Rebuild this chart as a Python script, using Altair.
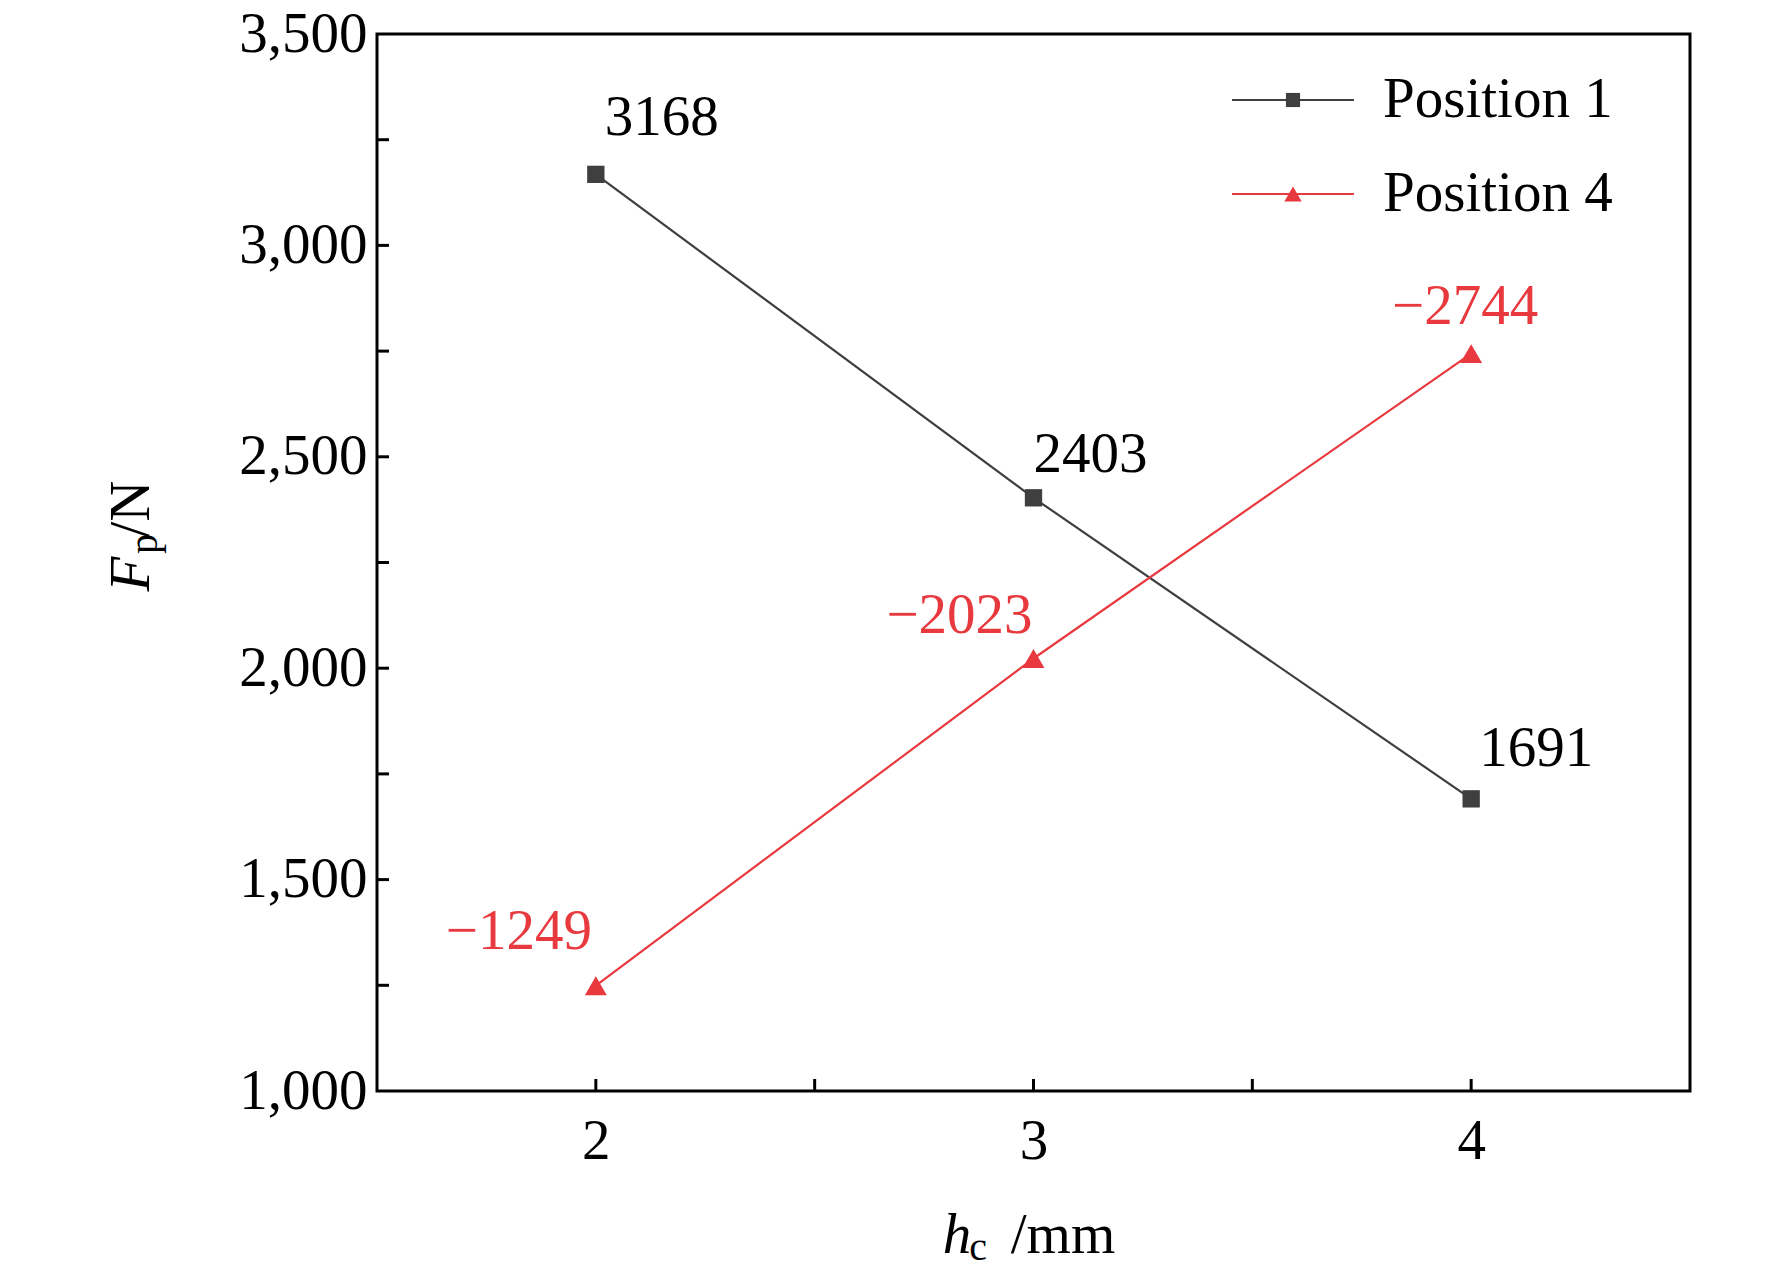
import altair as alt
import pandas as pd

hc = [2, 3, 4]
pos1 = [3168, 2403, 1691]
pos4 = [1249, 2023, 2744]
lab1 = ["3168", "2403", "1691"]
lab4 = ["\u22121249", "\u22122023", "\u22122744"]

grey, red = "#3f3f3f", "#e8393f"
font = "Liberation Serif"
W, H = 1313, 1057

df1 = pd.DataFrame({"hc": hc, "F": pos1, "lab": lab1})
df4 = pd.DataFrame({"hc": hc, "F": pos4, "lab": lab4})

xs = alt.Scale(domain=[1.5, 4.5], nice=False)
ys = alt.Scale(domain=[1000, 3500], nice=False)
xax = alt.Axis(values=[2, 3, 4], grid=False, labelFont=font, labelFontSize=57, labelColor="black",
               labelPadding=22, tickSize=0, domain=False, labelFlush=False, title=None)
yax = alt.Axis(values=[1000, 1500, 2000, 2500, 3000, 3500], grid=False, labelFont=font,
               labelFontSize=57, labelColor="black", labelPadding=10, tickSize=0, domain=False,
               labelFlush=False, title=None)
X = alt.X("hc:Q", scale=xs, axis=xax)
Y = alt.Y("F:Q", scale=ys, axis=yax)

def series(df, color, shape, size):
    base = alt.Chart(df).encode(x=X, y=Y)
    return base.mark_line(color=color, strokeWidth=2.2) + base.mark_point(
        shape=shape, filled=True, color=color, size=size, opacity=1)

minor_x = alt.Chart(pd.DataFrame({"hc": [2, 2.5, 3, 3.5, 4]})).mark_rule(color="black", strokeWidth=3).encode(
    x=X, y=alt.value(H), y2=alt.value(H - 12))
minor_y = alt.Chart(pd.DataFrame({"F": [1250, 1500, 1750, 2000, 2250, 2500, 2750, 3000, 3250]})).mark_rule(
    color="black", strokeWidth=3).encode(y=Y, x=alt.value(0), x2=alt.value(12))

frame = alt.Chart(pd.DataFrame({"a": [0]})).mark_rect(fill=None, stroke="black", strokeWidth=3).encode(
    x=alt.value(0), x2=alt.value(W), y=alt.value(0), y2=alt.value(H))

offs1 = [(66, -56), (57, -43), (65, -50)]
offs4 = [(-77, -54), (-74, -42), (-6, -47)]
labels = []
for df, offs, c in [(df1, offs1, "black"), (df4, offs4, red)]:
    for i, (dx, dy) in enumerate(offs):
        labels.append(alt.Chart(df.iloc[[i]]).mark_text(
            font=font, fontSize=57, color=c, dx=dx, dy=dy).encode(x=X, y=Y, text="lab:N"))

def txt(s, x, y, size=57, style="normal", angle=0, align="center", baseline="middle"):
    return alt.Chart(pd.DataFrame({"t": [s]})).mark_text(
        font=font, fontSize=size, fontStyle=style, angle=angle, align=align, baseline=baseline,
        color="black").encode(x=alt.value(x), y=alt.value(y), text="t:N")

# axis titles
titles = [
    txt("h", 580, 1202, style="italic"),
    txt("c", 601, 1214, size=40),
    txt("/mm", 686, 1202),
    txt("F", -245, 540, style="italic", angle=270),
    txt("p", -232, 510, size=40, angle=270),
    txt("/N", -245, 475, angle=270),
]

# legend
leg = []
for yy, c, shape, sz, nm in [(66, grey, "square", 200, "Position 1"), (160, red, "triangle-up", 300, "Position 4")]:
    leg.append(alt.Chart(pd.DataFrame({"a": [0]})).mark_rule(color=c, strokeWidth=2.2).encode(
        x=alt.value(855), x2=alt.value(977), y=alt.value(yy)))
    leg.append(alt.Chart(pd.DataFrame({"a": [0]})).mark_point(
        shape=shape, filled=True, color=c, size=sz, opacity=1).encode(x=alt.value(916), y=alt.value(yy)))
    leg.append(txt(nm, 1006, yy, size=57, align="left"))

chart = alt.layer(
    minor_x, minor_y, frame,
    series(df1, grey, "square", 300), series(df4, red, "triangle-up", 480),
    *labels, *titles, *leg
).properties(
    width=W, height=H, autosize=alt.AutoSizeParams(type="none"),
    padding={"left": 369, "top": 26, "right": 60, "bottom": 180},
).configure_view(stroke=None)

chart.save("out.html", embed_options={"renderer": "svg", "actions": False})
